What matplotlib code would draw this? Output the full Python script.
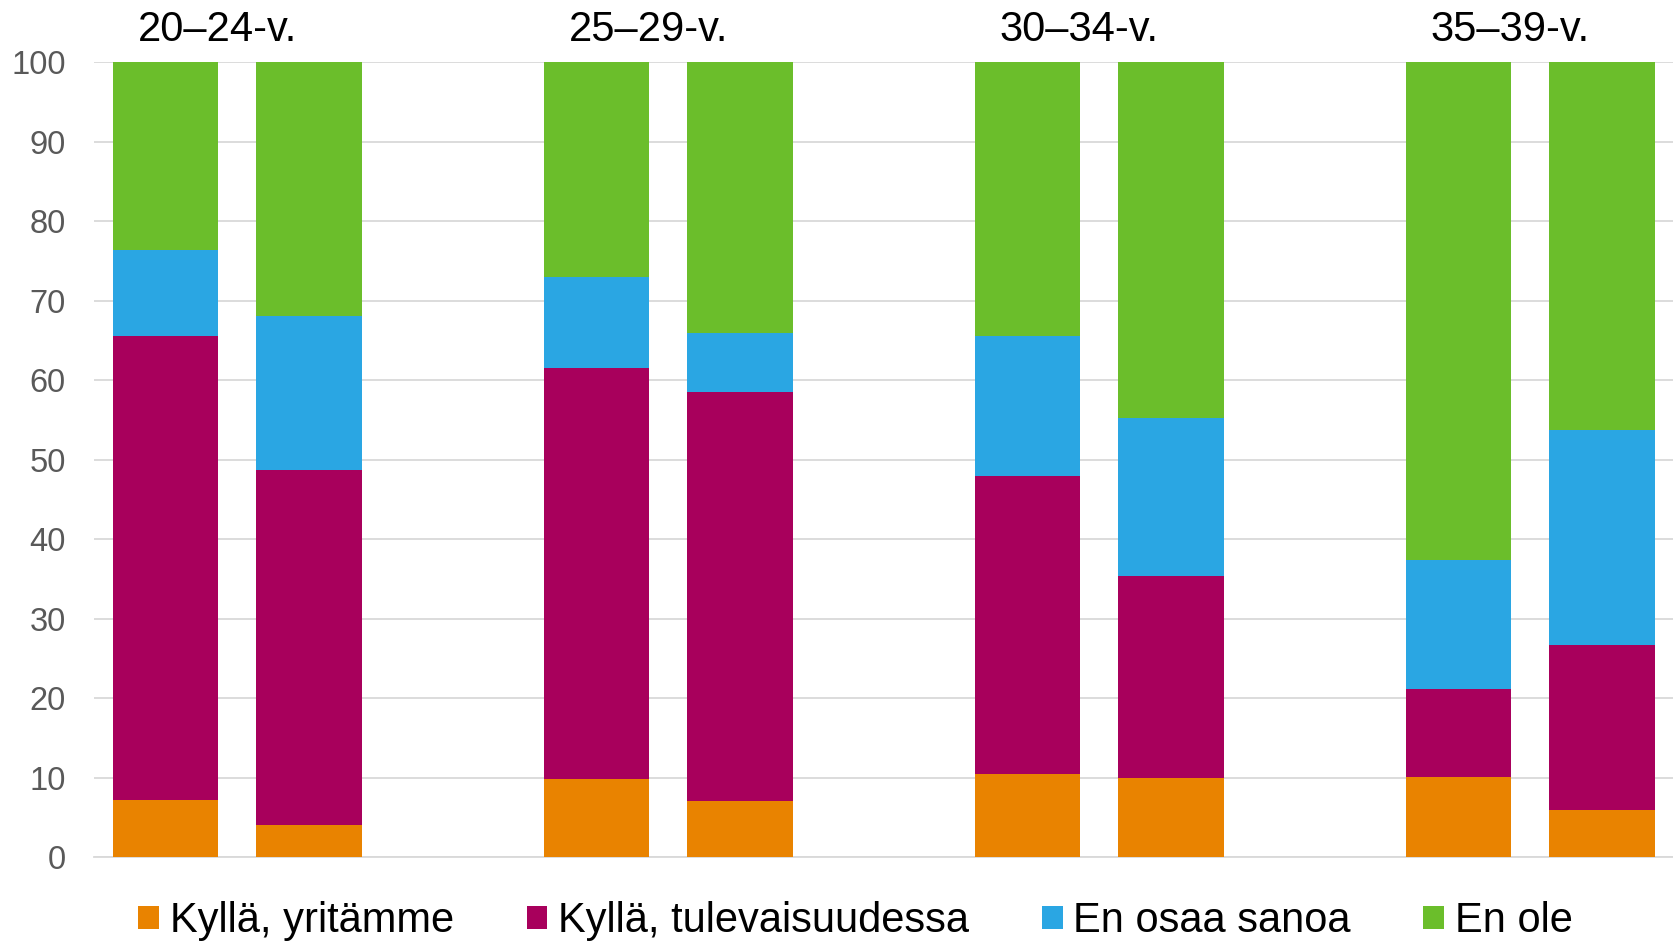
import matplotlib.pyplot as plt
import numpy as np

plt.rcParams['font.family'] = ['Liberation Sans', 'DejaVu Sans']

# ikäryhmät ja sarjat (kaksi pylvästä / ryhmä)
ryhmat = ['20–24-v.', '25–29-v.', '30–34-v.', '35–39-v.']
sarjat = ['Kyllä, yritämme', 'Kyllä, tulevaisuudessa', 'En osaa sanoa', 'En ole']
varit = ['#E98300', '#A8005C', '#2AA6E3', '#6BBE2B']

kylla_yritamme = [7.2, 4.0, 9.8, 7.0, 10.5, 9.9, 10.1, 5.9]
kylla_tulevaisuudessa = [58.3, 44.7, 51.7, 51.5, 37.4, 25.5, 11.0, 20.8]
en_osaa_sanoa = [10.9, 19.4, 11.5, 7.4, 17.7, 19.8, 16.3, 27.0]
en_ole = [23.6, 31.9, 27.0, 34.1, 34.4, 44.8, 62.6, 46.3]

arvot = [kylla_yritamme, kylla_tulevaisuudessa, en_osaa_sanoa, en_ole]

# paikat: kaksi pylvästä, yksi tyhjä väli
x = np.array([0, 1, 3, 4, 6, 7, 9, 10])

fig = plt.figure(figsize=(16.74, 9.42), dpi=100)
ax = fig.add_axes([0.056, 0.0902, 0.944, 0.8438])

pohja = np.zeros(len(x))
for nimi, v, c in zip(sarjat, arvot, varit):
    ax.bar(x, v, bottom=pohja, width=0.735, color=c, label=nimi, zorder=3)
    pohja += np.array(v)

ax.set_ylim(0, 100)
ax.set_xlim(-0.5, 10.5)
ax.set_yticks(range(0, 101, 10))
ax.set_xticks([])
ax.tick_params(axis='y', length=0, labelsize=23.5, labelcolor='#595959', pad=20)
ax.grid(axis='y', color='#d9d9d9', linewidth=1.3, zorder=0)
for s in ['top', 'right', 'left']:
    ax.spines[s].set_visible(False)
ax.spines['bottom'].set_color('#d9d9d9')
ax.spines['bottom'].set_linewidth(1.3)

for i, r in enumerate(ryhmat):
    ax.text(i * 3 + 0.36, 104.0, r, ha='center', va='center', fontsize=30, color='black')

fig.legend(loc='center', bbox_to_anchor=(0.511, 0.022), ncol=4, frameon=False,
           fontsize=30, handlelength=0.5, handleheight=0.5, handletextpad=0.25,
           columnspacing=1.75, borderaxespad=0)

fig.savefig('out.png', dpi=100)
